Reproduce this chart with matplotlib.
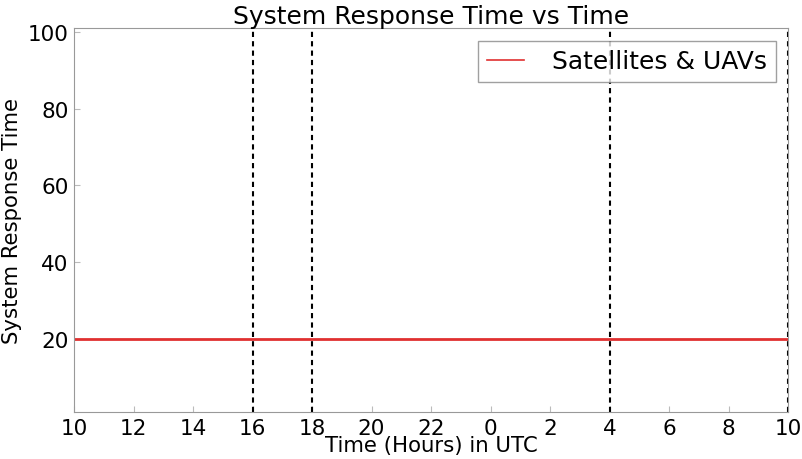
import matplotlib
matplotlib.use('Agg')
import matplotlib.pyplot as plt

# data
hours = [10, 34]
response = [20, 20]
event_hours = [16, 18, 28, 34]
tick_hours = list(range(10, 35, 2))
tick_labels = [str(h % 24) for h in tick_hours]

plt.rcParams['font.family'] = 'DejaVu Sans'

fig = plt.figure(figsize=(8.02, 4.6), dpi=100)
ax = fig.add_axes([74/802, 1 - 413/460, (788-74)/802, (413-29)/460])

ax.plot(hours, response, color='#e03030', lw=2, label='Satellites & UAVs')
for h in event_hours:
    ax.axvline(h, color='black', lw=1.5, linestyle=(0, (2.5, 2)))

ax.set_xlim(10, 34)
ax.set_ylim(1, 101)
ax.set_xticks(tick_hours)
ax.set_xticklabels(tick_labels)
ax.set_yticks([20, 40, 60, 80, 100])
ax.tick_params(direction='in', length=4, color='#bbbbbb', labelsize=15.5, pad=4)
for s in ax.spines.values():
    s.set_color('#999999')

ax.set_title('System Response Time vs Time', fontsize=18, pad=1)
ax.set_xlabel('Time (Hours) in UTC', fontsize=15.3)
ax.set_ylabel('System Response Time', fontsize=15.3)
ax.xaxis.set_label_coords(0.5, -0.06)
ax.yaxis.set_label_coords(-0.073, 0.5)

leg = ax.legend(loc='upper right', fontsize=18, handlelength=1.5, handletextpad=1.1,
                borderpad=0.35, fancybox=False, borderaxespad=0.5)
leg.get_frame().set_edgecolor('#888888')
leg.get_lines()[0].set_linewidth(1.2)

fig.savefig('out.png', dpi=100)
